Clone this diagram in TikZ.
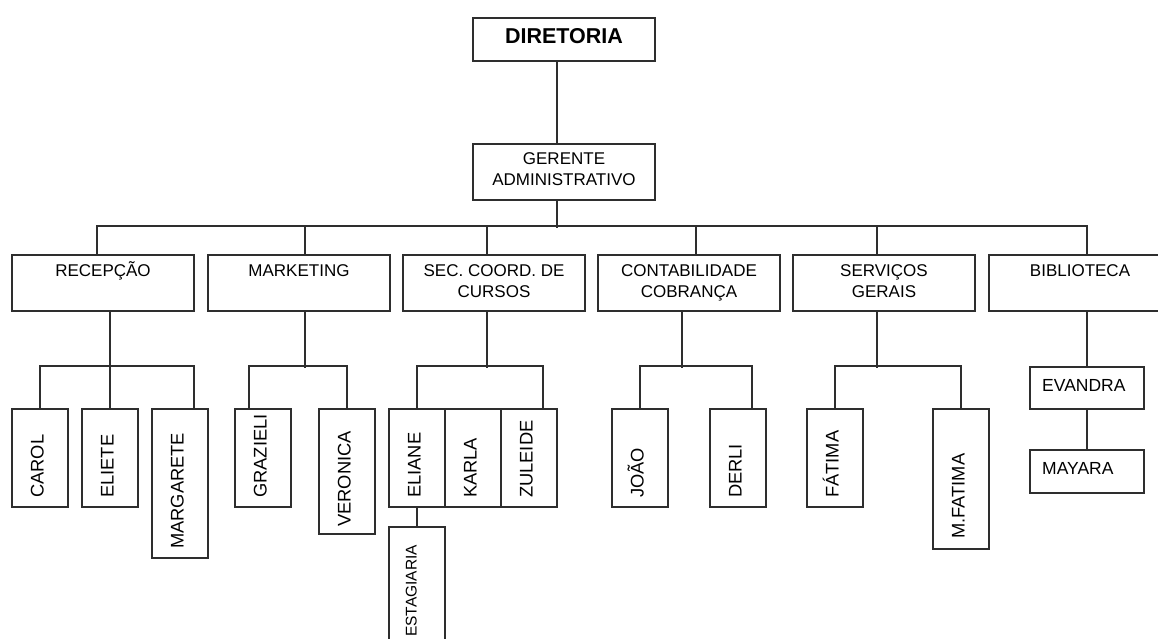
\documentclass[tikz,border=0pt]{standalone}
\usepackage{fontspec}
\setmainfont{Liberation Sans}
\newcommand\mystrut{\rule{0pt}{18pt}}
\begin{document}
\begin{tikzpicture}[x=1pt,y=-1pt,
  box/.style={draw=black!82, line width=2pt, inner sep=0pt, anchor=north west},
  hbox/.style={box, minimum width=182pt, minimum height=56pt},
  nbox/.style={box, minimum width=56pt},
  lab/.style={inner sep=0pt, font=\fontsize{17}{21}\selectfont, align=center, anchor=north},
  vlab/.style={inner sep=0pt, font=\fontsize{18.3}{20}\selectfont, rotate=90, anchor=base west},
  conn/.style={draw=black!82, line width=2pt}]
\useasboundingbox (0,0) rectangle (1158,638);
\clip (0,0) rectangle (1158,638);
\fill[white] (0,0) rectangle (1158,638);

% top
\node[box, minimum width=182pt, minimum height=43pt] (dir) at (472,17) {};
\node[inner sep=0pt, anchor=base, font=\bfseries\fontsize{21.5}{24}\selectfont] (dirt) at ([yshift=-26pt]dir.north) {DIRETORIA};
\node[box, minimum width=182pt, minimum height=56pt] (ger) at (472,143) {};
\node[lab] (gert) at ([yshift=-3pt]ger.north) {\mystrut GERENTE\\ADMINISTRATIVO};

% level 2
\node[hbox] (rec) at (11,254) {};
\node[lab] (rect) at ([yshift=-4.5pt]rec.north) {\mystrut RECEPÇÃO};
\node[hbox] (mkt) at (207,254) {};
\node[lab] (mktt) at ([yshift=-4.5pt]mkt.north) {\mystrut MARKETING};
\node[hbox] (sec) at (402,254) {};
\node[lab] (sect) at ([yshift=-4.5pt]sec.north) {\mystrut SEC. COORD. DE\\CURSOS};
\node[hbox] (cont) at (597,254) {};
\node[lab] (contt) at ([yshift=-4.5pt]cont.north) {\mystrut CONTABILIDADE\\COBRANÇA};
\node[hbox] (serv) at (792,254) {};
\node[lab] (servt) at ([yshift=-4.5pt]serv.north) {\mystrut SERVIÇOS\\GERAIS};
\node[hbox] (bib) at (988,254) {};
\node[lab] (bibt) at ([yshift=-4.5pt]bib.north) {\mystrut BIBLIOTECA};

% level 3 boxes
\node[nbox, minimum height=98pt] (carol) at (11,408) {};
\node[nbox, minimum height=98pt] (eliete) at (81,408) {};
\node[nbox, minimum height=149pt] (marg) at (151,408) {};
\node[nbox, minimum height=98pt] (graz) at (234,408) {};
\node[nbox, minimum height=125pt] (ver) at (318,408) {};
\node[nbox, minimum height=98pt] (eliane) at (388,408) {};
\node[nbox, minimum height=98pt] (karla) at (444,408) {};
\node[nbox, minimum height=98pt] (zul) at (500,408) {};
\node[nbox, minimum height=200pt] (estag) at (388,526) {};
\node[nbox, minimum height=98pt] (joao) at (611,408) {};
\node[nbox, minimum height=98pt] (derli) at (709,408) {};
\node[nbox, minimum height=98pt] (fat) at (806,408) {};
\node[nbox, minimum height=140pt] (mfat) at (932,408) {};
\node[box, minimum width=114pt, minimum height=42pt] (eva) at (1029,366) {};
\node[box, minimum width=114pt, minimum height=43pt] (may) at (1029,449) {};

% rotated labels
\node[vlab] (carolt) at ([xshift=3.5pt,yshift=10pt]carol.south) {CAROL};
\node[vlab] (eliett) at ([xshift=3.5pt,yshift=10pt]eliete.south) {ELIETE};
\node[vlab] (margt) at ([xshift=3.5pt,yshift=10pt]marg.south) {MARGARETE};
\node[vlab] (grazt) at ([xshift=3.5pt,yshift=10pt]graz.south) {GRAZIELI};
\node[vlab] (vert) at ([xshift=3.5pt,yshift=8pt]ver.south) {VERONICA};
\node[vlab] (elianet) at ([xshift=3.5pt,yshift=10pt]eliane.south) {ELIANE};
\node[vlab] (karlat) at ([xshift=3.5pt,yshift=10pt]karla.south) {KARLA};
\node[vlab] (zult) at ([xshift=3.5pt,yshift=10pt]zul.south) {ZULEIDE};
\node[vlab] (joaot) at ([xshift=3.5pt,yshift=10pt]joao.south) {JOÃO};
\node[vlab] (derlit) at ([xshift=3.5pt,yshift=10pt]derli.south) {DERLI};
\node[vlab] (fatt) at ([xshift=3.5pt,yshift=10pt]fat.south) {FÁTIMA};
\node[vlab] (mfatt) at ([xshift=3.5pt,yshift=11pt]mfat.south) {M.FATIMA};
\node[vlab, font=\fontsize{15.5}{17}\selectfont] (estagt) at ([xshift=-0.5pt,yshift=-111pt]estag.north) {ESTAGIARIA};
\node[inner sep=0pt, anchor=base west, font=\fontsize{17.5}{20}\selectfont] (evat) at ([xshift=13pt,yshift=-25pt]eva.north west) {EVANDRA};
\node[inner sep=0pt, anchor=base west, font=\fontsize{17.5}{20}\selectfont] (mayt) at ([xshift=13pt,yshift=-25pt]may.north west) {MAYARA};

% connectors
\draw[conn] ([xshift=-7pt]dir.south) -- ([xshift=-7pt]ger.north);
\draw[conn] ([xshift=-7pt]ger.south) -- ++(0,27);
\draw[conn] ([xshift=-6pt]rec.north) -- ++(0,-28) -| ([xshift=7pt]bib.north);
\draw[conn] ([xshift=6pt]mkt.north) -- ++(0,-28);
\draw[conn] ([xshift=-7pt]sec.north) -- ++(0,-28);
\draw[conn] ([xshift=7pt]cont.north) -- ++(0,-28);
\draw[conn] ([xshift=-7pt]serv.north) -- ++(0,-28);

\draw[conn] ([xshift=7pt]rec.south) -- ++(0,56);
\draw[conn] (carol.north) -- ++(0,-42) -| ([xshift=14pt]marg.north);
\draw[conn] (eliete.north) -- ++(0,-42);

\draw[conn] ([xshift=6pt]mkt.south) -- ++(0,56);
\draw[conn] ([xshift=-14pt]graz.north) -- ++(0,-42) -| (ver.north);

\draw[conn] ([xshift=-7pt]sec.south) -- ++(0,56);
\draw[conn] (eliane.north) -- ++(0,-42) -| ([xshift=14pt]zul.north);
\draw[conn] (eliane.south) -- (estag.north);

\draw[conn] ([xshift=-7pt]cont.south) -- ++(0,56);
\draw[conn] (joao.north) -- ++(0,-42) -| ([xshift=14pt]derli.north);

\draw[conn] ([xshift=-7pt]serv.south) -- ++(0,56);
\draw[conn] (fat.north) -- ++(0,-42) -| (mfat.north);

\draw[conn] (eva.north |- bib.south) -- (eva.north);
\draw[conn] (eva.south) -- (may.north);
\end{tikzpicture}
\end{document}
